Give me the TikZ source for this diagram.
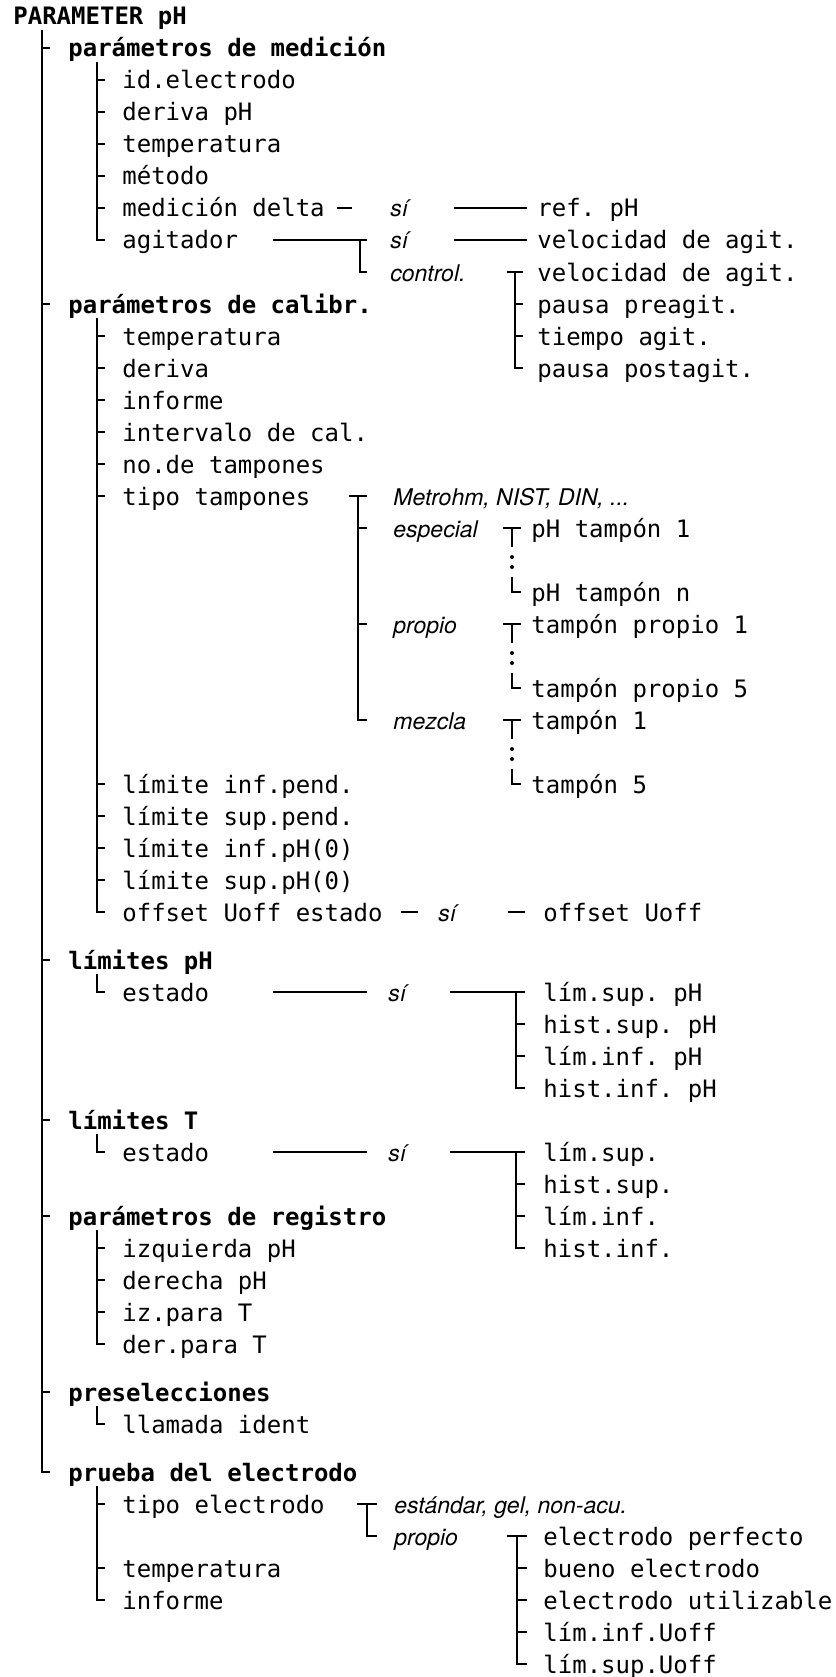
\documentclass[tikz,border=0pt]{standalone}
\usepackage{fontspec}
\setmonofont{DejaVu Sans Mono}
\newfontfamily\helv{TeX Gyre Heros}
\newcommand{\twigs}[3]{\foreach \n in {#1} \draw[tree] ([xshift=#2]\n.west) -- ([xshift=#3]\n.west);}
\newcommand{\spine}[4]{\draw[tree] ([xshift=#3]#2.west |- #1.south) -- ([xshift=#3]#2.west) -- ([xshift=#4]#2.west);}
\newcommand{\forkbar}[4]{\draw[tree] ([xshift=#3-#4]#1.west) -- ([xshift=#3+#4]#1.west);
 \draw[tree] ([xshift=#3]#1.west) -- ([xshift=#3]#2.west) -- ([xshift=#3+#4]#2.west);}
\newcommand{\dotfork}[2]{\draw[tree] ([xshift=-14pt]#1.west) -- ([xshift=-5pt]#1.west);
 \draw[tree] ([xshift=-9.5pt]#1.west) -- ([xshift=-9.5pt,yshift=-9.5pt]#1.west);
 \fill ([xshift=-9.5pt,yshift=-14.5pt]#1.west) circle (1pt);
 \fill ([xshift=-9.5pt,yshift=-19.5pt]#1.west) circle (1pt);
 \draw[tree] ([xshift=-9.5pt,yshift=7.5pt]#2.west) -- ([xshift=-9.5pt]#2.west) -- ([xshift=-5pt]#2.west);}
\begin{document}
\begin{tikzpicture}[x=0.5pt,y=-16pt,
 leaf/.style={anchor=west,inner sep=0pt,text height=11.3pt,text depth=2.3pt,font=\ttfamily\fontsize{12}{14}\selectfont},
 group/.style={leaf,font=\ttfamily\bfseries\fontsize{12}{14}\selectfont},
 choice/.style={leaf,font=\helv\itshape\fontsize{11.5}{14}\selectfont},
 tree/.style={line width=1pt}]
\useasboundingbox (0,-0.5) rectangle (835,51.906);
\node[group] (root) at (13,0) {PARAMETER pH};
% parámetros de medición
\node[group] (meas) at (68,1) {parámetros de medición};
\node[leaf] (m1) at (122,2) {id.electrodo};
\node[leaf] (m2) at (122,3) {deriva pH};
\node[leaf] (m3) at (122,4) {temperatura};
\node[leaf] (m4) at (122,5) {método};
\node[leaf] (m5) at (122,6) {medición delta};
\node[leaf] (m6) at (122,7) {agitador};
\node[choice] (m5yes) at (390,6) {sí};
\node[leaf] (m5ref) at (537,6) {ref. pH};
\node[choice] (m6yes) at (390,7) {sí};
\node[choice] (m6ctl) at (390,8) {control.};
\node[leaf] (m6vel) at (537,7) {velocidad de agit.};
\node[leaf] (c1) at (537,8) {velocidad de agit.};
\node[leaf] (c2) at (537,9) {pausa preagit.};
\node[leaf] (c3) at (537,10) {tiempo agit.};
\node[leaf] (c4) at (537,11) {pausa postagit.};
% parámetros de calibr.
\node[group] (cal) at (68,9) {parámetros de calibr.};
\node[leaf] (k1) at (122,10) {temperatura};
\node[leaf] (k2) at (122,11) {deriva};
\node[leaf] (k3) at (122,12) {informe};
\node[leaf] (k4) at (122,13) {intervalo de cal.};
\node[leaf] (k5) at (122,14) {no.de tampones};
\node[leaf] (k6) at (122,15) {tipo tampones};
\node[leaf] (k7) at (122,24) {límite inf.pend.};
\node[leaf] (k8) at (122,25) {límite sup.pend.};
\node[leaf] (k9) at (122,26) {límite inf.pH(0)};
\node[leaf] (k10) at (122,27) {límite sup.pH(0)};
\node[leaf] (k11) at (122,28) {offset Uoff estado};
\node[choice] (b0) at (393,15) {Metrohm, NIST, DIN, ...};
\node[choice] (bs) at (393,16) {especial};
\node[choice] (bp) at (393,19) {propio};
\node[choice] (bm) at (393,22) {mezcla};
\node[leaf] (bs1) at (531,16) {pH tampón 1};
\node[leaf] (bsn) at (531,18) {pH tampón n};
\node[leaf] (bp1) at (531,19) {tampón propio 1};
\node[leaf] (bp5) at (531,21) {tampón propio 5};
\node[leaf] (bm1) at (531,22) {tampón 1};
\node[leaf] (bm5) at (531,24) {tampón 5};
\node[choice] (k11yes) at (438,28) {sí};
\node[leaf] (k11off) at (543,28) {offset Uoff};
% límites
\node[group] (lph) at (68,29.5) {límites pH};
\node[leaf] (lph1) at (122,30.5) {estado};
\node[choice] (lphyes) at (388,30.5) {sí};
\node[leaf] (lp1) at (543,30.5) {lím.sup. pH};
\node[leaf] (lp2) at (543,31.5) {hist.sup. pH};
\node[leaf] (lp3) at (543,32.5) {lím.inf. pH};
\node[leaf] (lp4) at (543,33.5) {hist.inf. pH};
\node[group] (lt) at (68,34.5) {límites T};
\node[leaf] (lt1) at (122,35.5) {estado};
\node[choice] (ltyes) at (388,35.5) {sí};
\node[leaf] (lq1) at (543,35.5) {lím.sup.};
\node[leaf] (lq2) at (543,36.5) {hist.sup.};
\node[leaf] (lq3) at (543,37.5) {lím.inf.};
\node[leaf] (lq4) at (543,38.5) {hist.inf.};
% registro, preselecciones
\node[group] (reg) at (68,37.5) {parámetros de registro};
\node[leaf] (r1) at (122,38.5) {izquierda pH};
\node[leaf] (r2) at (122,39.5) {derecha pH};
\node[leaf] (r3) at (122,40.5) {iz.para T};
\node[leaf] (r4) at (122,41.5) {der.para T};
\node[group] (pre) at (68,43) {preselecciones};
\node[leaf] (pre1) at (122,44) {llamada ident};
% prueba del electrodo
\node[group] (el) at (68,45.5) {prueba del electrodo};
\node[leaf] (e1) at (122,46.5) {tipo electrodo};
\node[leaf] (e2) at (122,48.5) {temperatura};
\node[leaf] (e3) at (122,49.5) {informe};
\node[choice] (std) at (394,46.5) {estándar, gel, non-acu.};
\node[choice] (own) at (394,47.5) {propio};
\node[leaf] (o1) at (543,47.5) {electrodo perfecto};
\node[leaf] (o2) at (543,48.5) {bueno electrodo};
\node[leaf] (o3) at (543,49.5) {electrodo utilizable};
\node[leaf] (o4) at (543,50.5) {lím.inf.Uoff};
\node[leaf] (o5) at (543,51.5) {lím.sup.Uoff};
% tree bars
\spine{root}{el}{-13pt}{-9pt}
\twigs{meas,cal,lph,lt,reg,pre}{-13pt}{-9pt}
\spine{meas}{m6}{-12.5pt}{-8.5pt}
\twigs{m1,m2,m3,m4,m5}{-12.5pt}{-8.5pt}
\spine{cal}{k11}{-12.5pt}{-8.5pt}
\twigs{k1,k2,k3,k4,k5,k6,k7,k8,k9,k10}{-12.5pt}{-8.5pt}
\spine{lph}{lph1}{-12.5pt}{-8.5pt}
\spine{lt}{lt1}{-12.5pt}{-8.5pt}
\spine{reg}{r4}{-12.5pt}{-8.5pt}
\twigs{r1,r2,r3}{-12.5pt}{-8.5pt}
\spine{pre}{pre1}{-12.5pt}{-8.5pt}
\spine{el}{e3}{-12.5pt}{-8.5pt}
\twigs{e1,e2}{-12.5pt}{-8.5pt}
% links
\draw[tree,shorten <=6pt,shorten >=19pt] (m5.east) -- (m5yes.west);
\draw[tree,shorten <=22.6pt,shorten >=5pt] (m5yes.east) -- (m5ref.west);
\draw[tree,shorten <=17.2pt] (m6.east) -- ([xshift=-11.5pt]m6yes.west);
\draw[tree] ([xshift=-15pt]m6yes.west) -- ([xshift=-15pt]m6ctl.west) -- ([xshift=-11.5pt]m6ctl.west);
\draw[tree,shorten <=22.6pt,shorten >=5pt] (m6yes.east) -- (m6vel.west);
\forkbar{c1}{c4}{-11pt}{4pt}
\twigs{c2,c3}{-11pt}{-7pt}
\forkbar{b0}{bm}{-17.5pt}{4.5pt}
\twigs{bs,bp}{-17.5pt}{-13pt}
\dotfork{bs1}{bsn}
\dotfork{bp1}{bp5}
\dotfork{bm1}{bm5}
\draw[tree,shorten <=9pt,shorten >=10pt] (k11.east) -- (k11yes.west);
\draw[tree,shorten <=25.6pt,shorten >=9pt] (k11yes.east) -- (k11off.west);
\draw[tree,shorten <=31.7pt,shorten >=10.5pt] (lph1.east) -- (lphyes.west);
\draw[tree,shorten <=21.6pt] (lphyes.east) -- ([xshift=-9pt]lp1.west);
\forkbar{lp1}{lp4}{-13.5pt}{4.5pt}
\twigs{lp2,lp3}{-13.5pt}{-9pt}
\draw[tree,shorten <=31.7pt,shorten >=10.5pt] (lt1.east) -- (ltyes.west);
\draw[tree,shorten <=21.6pt] (ltyes.east) -- ([xshift=-9pt]lq1.west);
\forkbar{lq1}{lq4}{-13.5pt}{4.5pt}
\twigs{lq2,lq3}{-13.5pt}{-9pt}
\forkbar{std}{own}{-13.5pt}{5pt}
\forkbar{o1}{o5}{-13pt}{5pt}
\twigs{o2,o3,o4}{-13pt}{-8pt}
\end{tikzpicture}
\end{document}
